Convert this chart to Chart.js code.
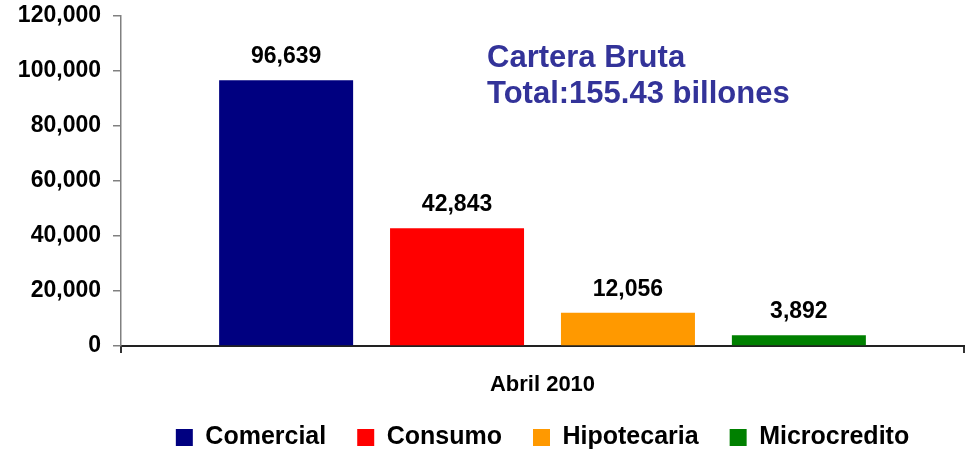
<!DOCTYPE html>
<html>
<head>
<meta charset="utf-8">
<script src="https://cdn.jsdelivr.net/npm/chart.js@4/dist/chart.umd.min.js"></script>
<style>
    html, body { margin: 0; padding: 0; background: #fff; overflow: hidden; }
    #wrap { width: 968px; height: 460px; position: relative; }
</style>
</head>
<body>
<div id="wrap"><canvas id="carteraChart"></canvas></div>
<script>
const categories = ['Abril 2010'];
const seriesNames = ['Comercial', 'Consumo', 'Hipotecaria', 'Microcredito'];
const seriesValues = [96639, 42843, 12056, 3892];
const seriesColors = ['#000080', '#ff0000', '#ff9900', '#008000'];
const titleLines = ['Cartera Bruta', 'Total:155.43 billones'];

const FONT = "'Liberation Sans', Arial, sans-serif";

function formatNumber(n) {
    return n.toLocaleString('en-US');
}

// Value labels above each bar
const valueLabels = {
    id: 'valueLabels',
    afterDatasetsDraw(chart) {
        const ctx = chart.ctx;
        ctx.save();
        ctx.font = 'bold 23px ' + FONT;
        ctx.fillStyle = '#000';
        ctx.textAlign = 'center';
        ctx.textBaseline = 'alphabetic';
        chart.data.datasets.forEach((ds, i) => {
            const meta = chart.getDatasetMeta(i);
            meta.data.forEach((bar, j) => {
                ctx.fillText(formatNumber(ds.data[j]), bar.x, bar.y - 17);
            });
        });
        ctx.restore();
    }
};

// Blue text block inside the plot
const totalText = {
    id: 'totalText',
    afterDraw(chart) {
        const ctx = chart.ctx;
        ctx.save();
        ctx.font = 'bold 31px ' + FONT;
        ctx.fillStyle = '#333399';
        ctx.textAlign = 'left';
        ctx.textBaseline = 'alphabetic';
        ctx.fillText(titleLines[0], 487, 67);
        ctx.fillText(titleLines[1], 487, 103);
        ctx.restore();
    }
};

// Center the legend under the plot area instead of the whole canvas
const legendUnderPlot = {
    id: 'legendUnderPlot',
    afterLayout(chart) {
        const lg = chart.legend;
        if (!lg) return;
        lg.left = chart.chartArea.left;
        lg.right = chart.chartArea.right;
        lg.width = lg.right - lg.left;
    }
};

new Chart(document.getElementById('carteraChart'), {
    type: 'bar',
    data: {
        labels: categories,
        datasets: seriesNames.map((name, i) => ({
            label: name,
            data: [seriesValues[i]],
            backgroundColor: seriesColors[i],
            borderWidth: 0,
            barPercentage: 0.784,
            categoryPercentage: 0.811
        }))
    },
    options: {
        responsive: true,
        maintainAspectRatio: false,
        animation: false,
        layout: { padding: { left: 0, right: 4, top: 16, bottom: 0 } },
        scales: {
            x: {
                border: { display: true, color: '#222', width: 2 },
                grid: { drawOnChartArea: false, drawTicks: true, tickLength: 7, color: '#333', lineWidth: 2 },
                ticks: { color: '#000', padding: 19, font: { family: FONT, size: 22, weight: 'bold' } },
                afterFit: (s) => { s.height = 48; }
            },
            y: {
                min: 0,
                max: 120000,
                border: { display: true, color: '#808080', width: 1.5 },
                grid: { drawOnChartArea: false, drawTicks: true, tickLength: 8, color: '#808080', lineWidth: 1.5 },
                ticks: {
                    stepSize: 20000,
                    color: '#000',
                    padding: 12,
                    font: { family: FONT, size: 23, weight: 'bold' },
                    callback: (v) => formatNumber(v)
                },
                afterFit: (s) => {
                    s.width = 121;
                    s.paddingTop = 0;
                    s.paddingBottom = 0;
                }
            }
        },
        plugins: {
            legend: {
                position: 'bottom',
                labels: {
                    boxWidth: 17,
                    boxHeight: 17,
                    padding: 31,
                    color: '#000',
                    font: { family: FONT, size: 25, weight: 'bold' }
                }
            },
            tooltip: { enabled: false }
        }
    },
    plugins: [valueLabels, totalText, legendUnderPlot]
});
</script>
</body>
</html>
